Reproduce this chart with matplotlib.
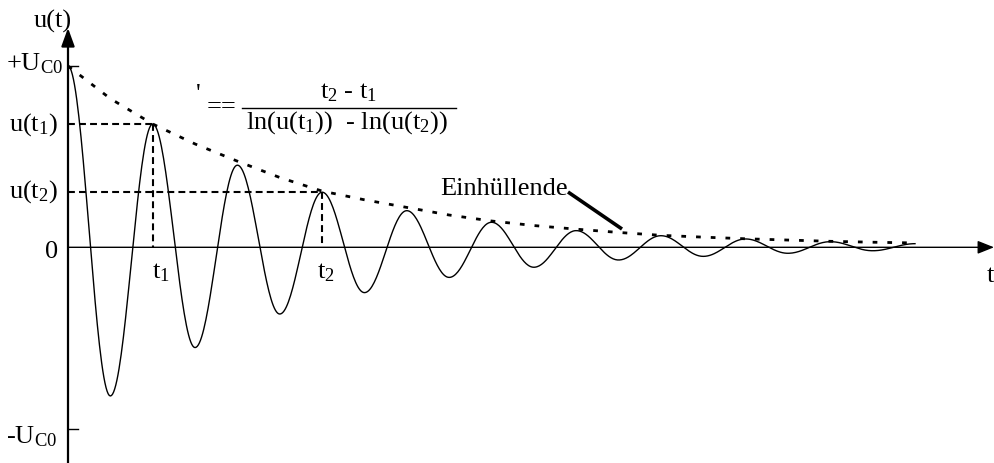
import numpy as np
import matplotlib.pyplot as plt

plt.rcParams['font.family'] = 'Liberation Serif'

# extrema of the damped oscillation (t in periods, u in units of U_C0)
ext_t = [0.0, 0.5, 1.0, 1.5, 2.0, 2.5, 3.0, 3.5, 4.0, 4.5, 5.0,
         5.5, 6.0, 6.5, 7.0, 7.5, 8.0, 8.5, 9.0, 9.5, 10.0]
ext_u = [1.0, -0.82, 0.68, -0.553, 0.453, -0.368, 0.304, -0.25, 0.202, -0.166, 0.138,
         -0.11, 0.092, -0.07, 0.064, -0.05, 0.046, -0.033, 0.031, -0.019, 0.02]

# dotted envelope
env_t = [0.0, 0.5, 1.0, 1.5, 2.0, 2.5, 3.0, 3.5, 4.0, 4.5, 5.0,
         5.5, 6.0, 6.5, 7.0, 7.5, 8.0, 8.5, 9.0, 9.5, 10.0]
env_u = [1.0, 0.82, 0.68, 0.57, 0.475, 0.385, 0.31, 0.262, 0.22, 0.178, 0.145,
         0.12, 0.1, 0.082, 0.066, 0.056, 0.047, 0.04, 0.033, 0.028, 0.024]

t1, u1 = 1.0, 0.68
t2, u2 = 3.0, 0.304

# smooth half-cosine pieces between neighbouring extrema
tt, uu = [], []
for i in range(len(ext_t) - 1):
    a, b = ext_u[i], ext_u[i + 1]
    s = np.linspace(0, 1, 40)
    tt.append(ext_t[i] + s * (ext_t[i + 1] - ext_t[i]))
    uu.append((a + b) / 2 + (a - b) / 2 * np.cos(np.pi * s))
tt = np.concatenate(tt)
uu = np.concatenate(uu)

W, H = 994, 464
x0, y0, sx, sy = 68, 248.3, 84.7, 181.3   # pixel position of origin / px per unit


def px(x, y):
    return (x - x0) / sx, (y0 - y) / sy


fig = plt.figure(figsize=(W / 100, H / 100), dpi=100)
ax = fig.add_axes([0, 0, 1, 1])
ax.axis('off')
ax.set_xlim(px(0, 0)[0], px(W, 0)[0])
ax.set_ylim(px(0, H)[1], px(0, 0)[1])

# axes with arrows
ax.annotate('', xy=px(68, 29), xytext=px(68, H + 2),
            arrowprops=dict(arrowstyle='-|>,head_length=0.55,head_width=0.2', lw=1.6,
                            color='k', mutation_scale=20, shrinkA=0, shrinkB=0))
ax.annotate('', xy=px(994, y0), xytext=px(68, y0),
            arrowprops=dict(arrowstyle='-|>,head_length=0.5,head_width=0.2', lw=1.0,
                            color='k', mutation_scale=20, shrinkA=0, shrinkB=0))
ax.plot([0, 0.118], [1, 1], color='k', lw=1.0)
ax.plot([0, 0.118], [-1, -1], color='k', lw=1.0)

# curve and envelope
ax.plot(tt, uu, color='k', lw=1.0)
ax.plot(env_t, env_u, color='k', lw=2.0, ls=(0, (1.7, 3.6)))

# helper lines for t1, t2
dash = (0, (3.3, 2.0))
ax.plot([0, t1], [u1, u1], color='k', lw=1.5, ls=dash)
ax.plot([t1, t1], [u1, 0], color='k', lw=1.5, ls=dash)
ax.plot([0, t2], [u2, u2], color='k', lw=1.5, ls=dash)
ax.plot([t2, t2], [u2, 0], color='k', lw=1.5, ls=dash)

fs = 19
ax.text(*px(53, 28), 'u(t)', fontsize=fs, ha='center', va='baseline')
ax.text(*px(63, 70), r'+$\mathregular{U_{C0}}$', fontsize=fs, ha='right', va='baseline')
ax.text(*px(58, 130.5), r'$\mathregular{u(t_1)}$', fontsize=fs, ha='right', va='baseline')
ax.text(*px(58, 197.5), r'$\mathregular{u(t_2)}$', fontsize=fs, ha='right', va='baseline')
ax.text(*px(58, 258), '0', fontsize=fs, ha='right', va='baseline')
ax.text(*px(57, 443), r'-$\mathregular{U_{C0}}$', fontsize=fs, ha='right', va='baseline')
ax.text(*px(152, 278), r'$\mathregular{t_1}$', fontsize=fs, ha='left', va='baseline')
ax.text(*px(317, 278), r'$\mathregular{t_2}$', fontsize=fs, ha='left', va='baseline')
ax.text(*px(990, 282), 't', fontsize=fs, ha='center', va='baseline')

# envelope label and pointer
ax.text(*px(440, 195), 'Einhüllende', fontsize=fs, ha='left', va='baseline')
xa, ya = px(568, 193)
xb, yb = px(622, 230)
ax.plot([xa, xb], [ya, yb], color='k', lw=2.6, solid_capstyle='butt')

# formula
ax.text(*px(196, 101), "'", fontsize=fs, ha='left', va='baseline')
ax.text(*px(221, 113), '==', fontsize=fs, ha='center', va='baseline')
fa, fy = px(242, 109)
fb, _ = px(456, 109)
ax.plot([fa, fb], [fy, fy], color='k', lw=1.0)
ax.text(*px(349, 98), r'$\mathregular{t_2}$ - $\mathregular{t_1}$', fontsize=fs,
        ha='center', va='baseline')
ax.text(*px(347, 129), r'ln(u($\mathregular{t_1}$))  - ln(u($\mathregular{t_2}$))',
        fontsize=fs, ha='center', va='baseline')

fig.savefig('out.png', dpi=100, facecolor='white')
